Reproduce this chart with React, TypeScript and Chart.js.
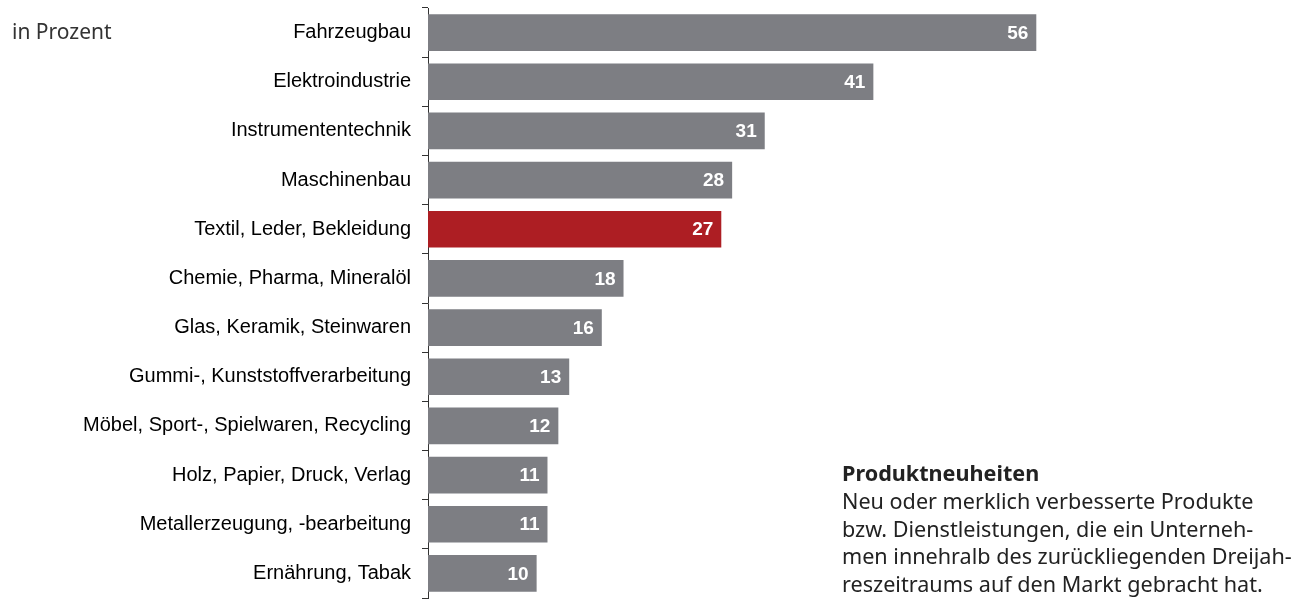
import React, { useEffect, useRef } from "react";
import { Chart, registerables } from "chart.js";

Chart.register(...registerables);

const categories = [
  "Fahrzeugbau",
  "Elektroindustrie",
  "Instrumententechnik",
  "Maschinenbau",
  "Textil, Leder, Bekleidung",
  "Chemie, Pharma, Mineralöl",
  "Glas, Keramik, Steinwaren",
  "Gummi-, Kunststoffverarbeitung",
  "Möbel, Sport-, Spielwaren, Recycling",
  "Holz, Papier, Druck, Verlag",
  "Metallerzeugung, -bearbeitung",
  "Ernährung, Tabak",
];
const values = [56, 41, 31, 28, 27, 18, 16, 13, 12, 11, 11, 10];
const highlighted = ["Textil, Leder, Bekleidung"];
const unitLabel = "in Prozent";
const noteTitle = "Produktneuheiten";
const noteLines = [
  "Neu oder merklich verbesserte Produkte",
  "bzw. Dienstleistungen, die ein Unterneh-",
  "men innehralb des zurückliegenden Dreijah-",
  "reszeitraums auf den Markt gebracht hat.",
];

const GREY = "#7d7e83";
const RED = "#ad1e23";

const valueLabels = {
  id: "valueLabels",
  afterDatasetsDraw(chart: any) {
    const ctx = chart.ctx;
    const meta = chart.getDatasetMeta(0);
    ctx.save();
    ctx.font = "bold 19px 'Liberation Sans', Arial, sans-serif";
    ctx.fillStyle = "#ffffff";
    ctx.textAlign = "right";
    ctx.textBaseline = "middle";
    meta.data.forEach((bar: any, i: number) => {
      ctx.fillText(String(values[i]), bar.x - 8, bar.y + 1);
    });
    ctx.restore();
  },
};

export default function App() {
  const ref = useRef<HTMLCanvasElement>(null);
  useEffect(() => {
    if (!ref.current) return;
    const chart = new Chart(ref.current, {
      type: "bar",
      data: {
        labels: categories,
        datasets: [
          {
            data: values,
            backgroundColor: categories.map((c) =>
              highlighted.includes(c) ? RED : GREY
            ),
            borderWidth: 0,
            barPercentage: 0.745,
            categoryPercentage: 1,
          },
        ],
      },
      options: {
        indexAxis: "y",
        responsive: false,
        animation: false,
        layout: { padding: { left: 0, top: 8, bottom: 3, right: 17 } },
        plugins: {
          legend: { display: false },
          tooltip: { enabled: false },
        },
        scales: {
          x: { display: false, min: 0, max: 80 },
          y: {
            afterFit(scale: any) {
              scale.width = 428;
              scale.paddingTop = 0;
              scale.paddingBottom = 0;
            },
            border: { display: true, color: "#333333", width: 1 },
            grid: {
              display: true,
              drawOnChartArea: false,
              drawTicks: true,
              tickLength: 6,
              color: "#333333",
              offset: true,
            },
            ticks: {
              padding: 11,
              color: "#000000",
              font: { family: "'Liberation Sans', Arial, sans-serif", size: 20 },
            },
          },
        },
      },
      plugins: [valueLabels],
    });
    return () => chart.destroy();
  }, []);

  const textFont = "'Noto Sans', sans-serif";
  return (
    <div
      style={{
        position: "fixed",
        left: 0,
        top: 0,
        width: 1314,
        height: 601,
        background: "#ffffff",
        overflow: "hidden",
      }}
    >
      <canvas
        ref={ref}
        width={1314}
        height={601}
        style={{ position: "absolute", left: 0, top: 0, width: 1314, height: 601 }}
      />
      <div
        style={{
          position: "absolute",
          left: 12,
          top: 17,
          fontFamily: textFont,
          fontSize: 21,
          lineHeight: "28px",
          color: "#333333",
          whiteSpace: "nowrap",
        }}
      >
        {unitLabel}
      </div>
      <div
        style={{
          position: "absolute",
          left: 842,
          top: 459,
          fontFamily: textFont,
          fontSize: 21.6,
          lineHeight: "27.8px",
          color: "#222222",
          whiteSpace: "nowrap",
        }}
      >
        <div style={{ fontWeight: 700 }}>{noteTitle}</div>
        {noteLines.map((l) => (
          <div key={l}>{l}</div>
        ))}
      </div>
    </div>
  );
}
